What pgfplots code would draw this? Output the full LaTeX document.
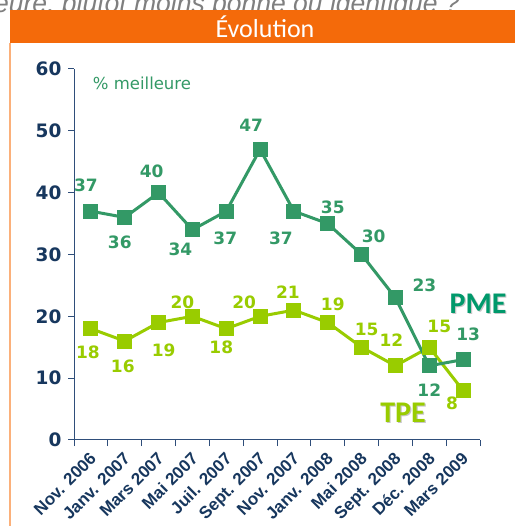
\documentclass[border=0pt]{standalone}
\usepackage{pgfplots}
\pgfplotsset{compat=1.18}
\usepackage{pgfplotstable}
\usepackage{fontspec}
\setmainfont{DejaVu Sans}
\newfontfamily\carlito{Carlito}
\newfontfamily\libsans{Liberation Sans}
\definecolor{pmec}{HTML}{339966}
\definecolor{pmet}{HTML}{00996B}
\definecolor{tpec}{HTML}{99CC00}
\definecolor{navy}{HTML}{17375E}
\definecolor{axisc}{HTML}{2F4E7A}
\definecolor{headorange}{HTML}{F46A0A}
\definecolor{leftorange}{HTML}{FBB07A}
\definecolor{topgray}{HTML}{7F7F7F}

\pgfplotstableread{
x y dx dy
0.5 37 -5 26
1.5 36 -5 -25
2.5 40 -7 21
3.5 34 -12 -20
4.5 37 -1 -27
5.5 47 -9 24
6.5 37 -13 -27
7.5 35 5 16
8.5 30 12 18
9.5 23 29 12
10.5 12 0 -24
11.5 13 5 25
}\pmetable

\pgfplotstableread{
x y dx dy
0.5 18 -3 -24
1.5 16 -2 -25
2.5 19 5 -28
3.5 20 -10 14
4.5 18 -5 -19
5.5 20 -16 14
6.5 21 -6 18
7.5 19 5 18
8.5 15 5 18
9.5 12 -4 26
10.5 15 10 21
11.5 8 -11 -13
}\tpetable

\begin{document}
\begin{tikzpicture}[x=1pt,y=1pt]
\clip (0,0) rectangle (515,526);
\fill[white] (0,0) rectangle (515,526);
\node[anchor=base east, text=topgray, font=\libsans\itshape\fontsize{26.5}{30}\selectfont, inner sep=0pt] at (460,513) {La situation est-elle meilleure, plutôt moins bonne ou identique ?};
\fill[headorange] (10,483) rectangle (515,516);
\node[text=white, font=\carlito\fontsize{26}{30}\selectfont] at (265,499.5) {Évolution};
\draw[leftorange, line width=1.5pt] (10,0) -- (10,483);

\begin{axis}[
  at={(74pt,86pt)}, anchor=south west,
  scale only axis, width=406pt, height=371pt,
  xmin=0, xmax=12, ymin=0, ymax=60,
  axis lines=left,
  axis line style={-, draw=axisc, line width=1pt},
  clip=false,
  tick align=outside,
  major tick length=6pt,
  tick style={draw=axisc, line width=1pt},
  ytick={0,10,...,60},
  xtick={0,...,12},
  xticklabels={},
  extra x ticks={0.5,1.5,...,11.5},
  extra x tick labels={Nov. 2006,Janv. 2007,Mars 2007,Mai 2007,Juil. 2007,Sept. 2007,Nov. 2007,Janv. 2008,Mai 2008,Sept. 2008,Déc. 2008,Mars 2009},
  extra x tick style={major tick length=0pt, xticklabel style={rotate=45, anchor=north east, font=\libsans\bfseries\fontsize{17}{19}\selectfont, text=navy, xshift=-6pt, yshift=-3pt}},
  yticklabel style={font=\bfseries\fontsize{18.5}{20}\selectfont, text=navy, xshift=-3pt},
  /pgf/number format/assume math mode=true,
  nodes near coords,
  every node near coord/.append style={font=\bfseries\fontsize{17}{19}\selectfont, anchor=center, xshift=\dx pt, yshift=\dy pt},
]
\addplot[tpec, line width=3pt, mark=square*, mark size=6pt, mark options={solid},
  visualization depends on={\thisrow{dx}\as\dx},
  visualization depends on={\thisrow{dy}\as\dy},
  every node near coord/.append style={text=tpec}]
  table[x=x,y=y] {\tpetable};
\addplot[pmec, line width=3pt, mark=square*, mark size=6pt, mark options={solid},
  visualization depends on={\thisrow{dx}\as\dx},
  visualization depends on={\thisrow{dy}\as\dy},
  every node near coord/.append style={text=pmec}]
  table[x=x,y=y] {\pmetable};
\end{axis}

\node[text=pmec, font=\fontsize{16.5}{18}\selectfont] at (142,443) {\% meilleure};
\node[text=black!22, font=\carlito\bfseries\fontsize{30}{34}\selectfont] at (479.2,220.8) {PME};
\node[text=pmet, font=\carlito\bfseries\fontsize{30}{34}\selectfont] at (478,222) {PME};
\node[text=black!22, font=\carlito\bfseries\fontsize{30}{34}\selectfont] at (404.2,111.8) {TPE};
\node[text=tpec, font=\carlito\bfseries\fontsize{30}{34}\selectfont] at (403,113) {TPE};
\end{tikzpicture}
\end{document}
